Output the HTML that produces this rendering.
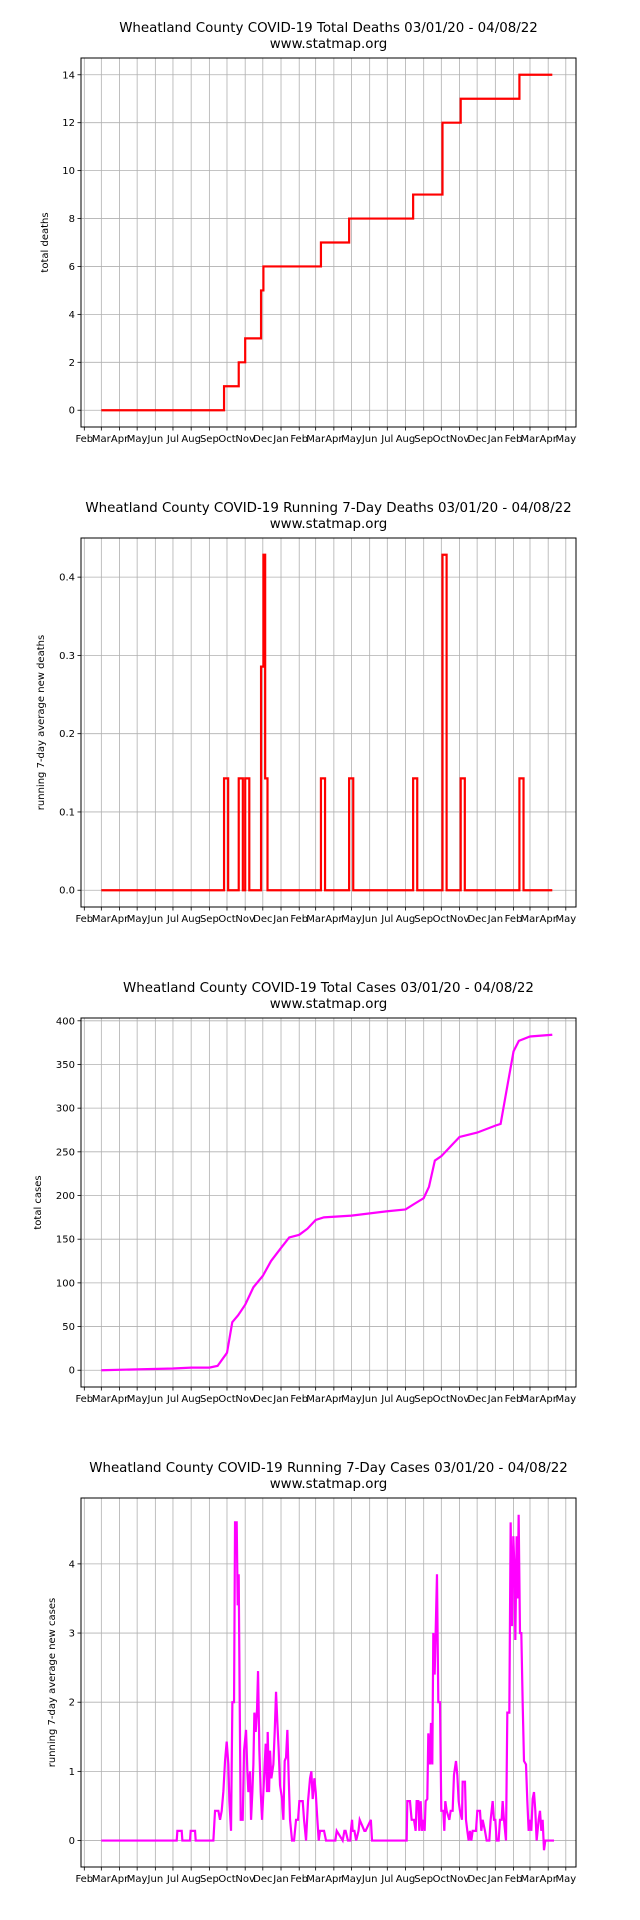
<!DOCTYPE html>
<html><head><meta charset="utf-8"><style>
html,body{margin:0;padding:0;background:#fff;}
svg{display:block;font-family:"DejaVu Sans","Liberation Sans",sans-serif;}
</style></head><body>
<svg id="fig" width="640" height="1920" viewBox="0 0 640 1920" xmlns="http://www.w3.org/2000/svg"></svg>
<script>
// ---- data (x = days since 2020-03-01) ----
const deathDays = [209, 234, 245, 272, 276, 374, 422, 531, 581, 612, 712];
const deathTotals = [1, 2, 3, 5, 6, 7, 8, 9, 12, 13, 14];
const caseDays = [0, 61, 122, 153, 184, 198, 214, 223, 233, 245, 259, 275, 289, 306, 320, 337, 351, 365, 379, 426, 487, 518, 532, 549, 558, 568, 579, 593, 610, 640, 671, 680, 690, 702, 711, 730, 768];
const caseTotals = [0, 1, 2, 3, 3, 5, 20, 55, 63, 75, 95, 108, 125, 140, 152, 155, 162, 172, 175, 177, 182, 184, 190, 197, 210, 240, 245, 255, 267, 272, 280, 282, 320, 365, 377, 382, 384];
const avgCaseZx1 = [0,20,22,35,37,60,62,75,77,130,135,145,150,155,160,165,170,175,178,183,187,192,195,200,203,206,209,212,218,222,228,232,235,240,243,247,250,253,257,261,264,268,272,276,282,287,291,293,297,300,304,310,314,318,322,326,330,336,340,344,348,352,356,360,366,372,378,384,388,398,402,408,414,420,424,428,433,437,442,446,450,462,468,496,500];
const avgCaseV1 = [0,0,0.14,0.14,0,0,0.14,0.14,0,0,0.43,0.43,0.3,0.43,0.71,1.15,1.43,1.1,0.57,0.14,2.0,2.0,4.6,4.6,3.4,3.85,2.0,0.3,0.3,1.3,1.6,1.0,0.7,1.0,0.3,0.7,1.1,1.85,1.57,1.9,2.45,1.3,0.7,0.3,0.9,1.4,0.7,1.57,0.7,1.3,0.9,1.1,1.57,2.15,1.7,1.3,0.8,0.6,0.3,1.15,1.2,1.6,0.9,0.3,0,0,0.3,0.3,0.57,0.57,0.3,0,0.57,0.9,1.0,0.6,0.9,0.7,0.3,0,0.14,0.14,0,0,0.14];
const avgCaseDaysMid = [411, 414, 416, 420, 424, 425, 427, 428, 431, 434, 438, 440, 448, 450, 459, 461];
const avgCaseVMid = [0, 0.14, 0.14, 0, 0, 0.14, 0.3, 0.14, 0.14, 0, 0.14, 0.3, 0.14, 0.14, 0.3, 0];
const avgCaseZx2 = [0,20,22,30,35,42,47,50,55,58,62,66,70,74,77,82,85,90,93,97,100,104,107,111,115,120,124,130,133,136,140,148,152,158,162,168,172,176,180,186,188,195,198,202,206,210,214,218,222,228,232,240,244,248,255,260,268,272,278,282,286,290,296,300,305,308,312,318,322,328,332,336,340,344,346,350,353,356,360,364,368,372,378,382,386,390,394,398,402,406,410,416,420,424,428,432,436,462];
const avgCaseV2 = [0,0,0.57,0.57,0.3,0.3,0.14,0.57,0.57,0.14,0.57,0.14,0.3,0.14,0.57,0.6,1.55,1.1,1.7,1.1,3.0,2.4,3.0,3.85,2.0,2.0,0.43,0.43,0.14,0.57,0.43,0.3,0.43,0.43,0.95,1.15,0.95,0.57,0.43,0.3,0.85,0.85,0.3,0.14,0,0.14,0,0.14,0.14,0.14,0.43,0.43,0.14,0.3,0.14,0,0,0.3,0.57,0.3,0.3,0,0,0.3,0.3,0.57,0.3,0,1.85,1.85,4.6,3.1,4.4,3.85,2.9,4.4,3.5,4.71,3.0,3.0,2.0,1.15,1.1,0.57,0.14,0.3,0.14,0.6,0.7,0.43,0,0.3,0.43,0.14,0.3,-0.14,0,0];
const monthLabels = ["Feb","Mar","Apr","May","Jun","Jul","Aug","Sep","Oct","Nov","Dec","Jan"];

// ---- helpers ----
const NS = "http://www.w3.org/2000/svg";
const fig = document.getElementById("fig");
function mk(tag, attrs, parent) {
  const e = document.createElementNS(NS, tag);
  for (const k in attrs) e.setAttribute(k, attrs[k]);
  (parent || fig).appendChild(e);
  return e;
}
const DAY0 = Date.UTC(2020, 1, 1);
const X0 = 84.3, PXD = 0.5872, MAR1 = 29;
function xs(d) { return X0 + PXD * (d + MAR1); }
const L = 81, R = 576, H = 369;

// ---- derived daily series ----
const NDAYS = 769;
function cumDaily(days, totals) {
  const out = [];
  let j = -1;
  for (let d = 0; d < NDAYS; d++) {
    while (j + 1 < days.length && days[j + 1] <= d) j++;
    out.push(j >= 0 ? totals[j] : 0);
  }
  return out;
}
const deathCum = cumDaily(deathDays, deathTotals);
const deathAvg = deathCum.map((v, d) => (v - (d >= 7 ? deathCum[d - 7] : 0)) / 7);

const avgDays = [], avgVals = [];
avgDays.push(0); avgVals.push(0);
avgCaseZx1.forEach((z, i) => { avgDays.push(117 + z * 0.5677); avgVals.push(avgCaseV1[i]); });
avgCaseDaysMid.forEach((d, i) => { avgDays.push(d); avgVals.push(avgCaseVMid[i]); });
avgCaseZx2.forEach((z, i) => { avgDays.push(508.6 + z * 0.5677); avgVals.push(avgCaseV2[i]); });

function drawChart(idx, cfg) {
  const top = 58 + 480 * idx, bot = top + H;
  const g = mk("g", {});
  
  
  let mn = Math.min(...cfg.ys), mx = Math.max(...cfg.ys);
  const pad = (mx - mn) * 0.05; mn -= pad; mx += pad;
  const ys = v => bot - (v - mn) / (mx - mn) * H;
  const t1 = mk("text", {x: 328.5, y: top - 26, "text-anchor": "middle", "font-size": "13.4", fill: "#000"}, g);
  t1.textContent = cfg.title;
  
  
  const t2 = mk("text", {x: 328.5, y: top - 10, "text-anchor": "middle", "font-size": "13.4", fill: "#000"}, g);
  t2.textContent = "www.statmap.org";
  
  
  for (let m = 0; m < 28; m++) {
    const dt = Date.UTC(2020, 1 + m, 1);
    const d = Math.round((dt - DAY0) / 86400000) - MAR1;
    const x = xs(d);
    mk("line", {x1: x, x2: x, y1: top, y2: bot, stroke: "#b0b0b0", "stroke-width": 0.8}, g);
    mk("line", {x1: x, x2: x, y1: bot, y2: bot + 3.5, stroke: "#000", "stroke-width": 0.8}, g);
    const tl = mk("text", {x: x, y: bot + 15, "text-anchor": "middle", "font-size": "10", fill: "#000"}, g);
    tl.textContent = monthLabels[m % 12];
    
    
  }
  cfg.ticks.forEach((v, i) => {
    const y = ys(v);
    mk("line", {x1: L, x2: R, y1: y, y2: y, stroke: "#b0b0b0", "stroke-width": 0.8}, g);
    mk("line", {x1: L - 3.5, x2: L, y1: y, y2: y, stroke: "#000", "stroke-width": 0.8}, g);
    const tl = mk("text", {x: L - 6, y: y + 3.5, "text-anchor": "end", "font-size": "10", fill: "#000"}, g);
    tl.textContent = cfg.tickLabels[i];
    
    
  });
  const yl = mk("text", {x: 0, y: 0, transform: `translate(${cfg.ylx},${(top + bot) / 2}) rotate(-90)`, "text-anchor": "middle", "font-size": "10", fill: "#000"}, g);
  yl.textContent = cfg.ylabel;
  
  
  let p = "";
  cfg.xs.forEach((d, i) => {
    const x = xs(d), y = ys(cfg.ys[i]);
    if (i === 0) p += `M${x.toFixed(2)},${y.toFixed(2)}`;
    else if (cfg.step) p += `H${x.toFixed(2)}V${y.toFixed(2)}`;
    else p += `L${x.toFixed(2)},${y.toFixed(2)}`;
  });
  const ln = mk("path", {d: p, fill: "none", stroke: cfg.color, "stroke-width": 2.2, "stroke-linejoin": "miter"}, g);
  
  
  const fr = mk("rect", {x: L, y: top, width: R - L, height: H, fill: "none", stroke: "#000", "stroke-width": 1}, g);
  
  
}

const dayIdx = deathCum.map((v, d) => d);
drawChart(0, {name: "total-deaths-chart", title: "Wheatland County COVID-19 Total Deaths 03/01/20 - 04/08/22",
  ylabel: "total deaths", ylx: 48, xs: dayIdx, ys: deathCum, step: true, color: "#ff0000",
  ticks: [0,2,4,6,8,10,12,14], tickLabels: ["0","2","4","6","8","10","12","14"]});
drawChart(1, {name: "running-deaths-chart", title: "Wheatland County COVID-19 Running 7-Day Deaths 03/01/20 - 04/08/22",
  ylabel: "running 7-day average new deaths", ylx: 44, xs: dayIdx, ys: deathAvg, step: true, color: "#ff0000",
  ticks: [0,0.1,0.2,0.3,0.4], tickLabels: ["0.0","0.1","0.2","0.3","0.4"]});
drawChart(2, {name: "total-cases-chart", title: "Wheatland County COVID-19 Total Cases 03/01/20 - 04/08/22",
  ylabel: "total cases", ylx: 41, xs: caseDays, ys: caseTotals, step: false, color: "#ff00ff",
  ticks: [0,50,100,150,200,250,300,350,400], tickLabels: ["0","50","100","150","200","250","300","350","400"]});
drawChart(3, {name: "running-cases-chart", title: "Wheatland County COVID-19 Running 7-Day Cases 03/01/20 - 04/08/22",
  ylabel: "running 7-day average new cases", ylx: 55, xs: avgDays, ys: avgVals, step: false, color: "#ff00ff",
  ticks: [0,1,2,3,4], tickLabels: ["0","1","2","3","4"]});
</script>
</body></html>
